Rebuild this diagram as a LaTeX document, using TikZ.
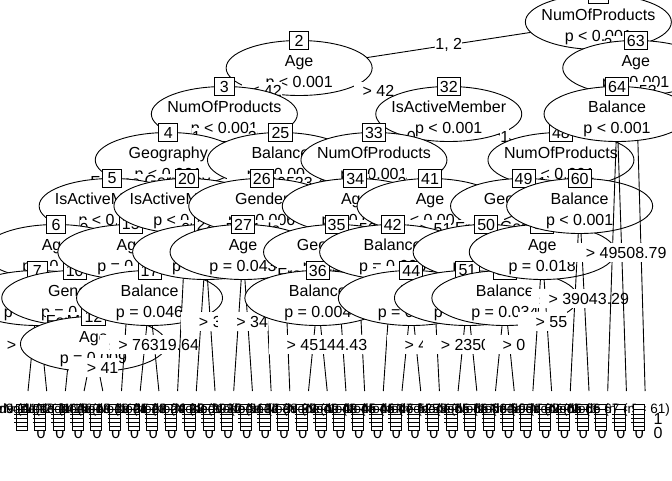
\documentclass[tikz,border=0pt]{standalone}
\usepackage{fontspec}
\setmainfont{Liberation Sans}
\usetikzlibrary{shapes.geometric}
\newcommand{\tkf}{\fontsize{16}{19}\selectfont}
\newcommand{\tks}{\fontsize{13.5}{16}\selectfont}
\newcommand{\lelab}[1]{\phantom{0}≤ #1}
\newcommand{\gtlab}[1]{\phantom{0}> #1}
\newcommand{\inode}[3]{%
  \node[ell] (e#1) at (n#1) {};
  \node[ntext] (v#1) at ([yshift=2pt]n#1) {#2};
  \node[ntext] (p#1) at ([yshift=-19pt]n#1) {#3};
  \node[idbox] (b#1) at ([yshift=27.5pt]n#1) {#1};
}
\newcommand{\ed}[2]{\draw (#1) -- (#2);}
\newcommand{\lab}[4]{\path (#1) -- (#2) node[elab,pos=#3] (l#1#2) {#4};}
\newcommand{\term}[3]{%
  \node[tbg] (g#1) at (#2,410.5) {};
  \node[ttext] (m#1) at (#2-26,413) {Node #1 (n = #3)};
  \node[tbar] (r#1) at (#2-6.5,417) {};
  \draw (#2-12,409.5) -- (#2-1,409.5);
  \draw (#2-14,414.5) -- (#2-1,414.5);
  \draw (#2-14,418.5) -- (#2-1,418.5);
  \draw (#2-14,422.5) -- (#2-1,422.5);
  \draw (#2-12,426.5) -- (#2-1,426.5);
  \node[tlev] (o#1) at (#2+13,419) {1};
  \node[tlev] (z#1) at (#2+13,432.5) {0};
}
\begin{document}
\begin{tikzpicture}[x=1pt,y=-1pt,line width=0.9pt,
  ell/.style={ellipse,draw,fill=white,minimum width=146pt,minimum height=55pt,inner sep=0pt},
  idbox/.style={draw,fill=white,minimum width=19.2pt,minimum height=18.5pt,inner xsep=2.65pt,inner ysep=0pt,font=\tkf},
  ntext/.style={anchor=base,inner sep=0pt,font=\tkf},
  elab/.style={fill=white,inner xsep=0pt,inner ysep=0pt,minimum height=19pt,font=\tkf},
  tbg/.style={fill=white,draw=none,minimum width=18.7pt,minimum height=37pt,inner sep=0pt},
  ttext/.style={anchor=base,inner sep=0pt,font=\tks},
  tbar/.style={draw,fill=white,minimum width=11pt,minimum height=26pt,inner sep=0pt},
  tlev/.style={inner sep=0pt,font=\tkf}]
\useasboundingbox (0,0) rectangle (672,480);
\coordinate (n1) at (598.35,22);
\coordinate (n2) at (299.15,68);
\coordinate (n63) at (635.75,68);
\coordinate (n3) at (224.35,114);
\coordinate (n32) at (448.75,114);
\coordinate (n64) at (617.05,114);
\coordinate (n4) at (168.25,160);
\coordinate (n25) at (280.45,160);
\coordinate (n33) at (373.95,160);
\coordinate (n48) at (560.95,160);
\coordinate (n5) at (112.15,206);
\coordinate (n20) at (186.95,206);
\coordinate (n26) at (261.75,206);
\coordinate (n34) at (355.25,206);
\coordinate (n41) at (430.05,206);
\coordinate (n49) at (523.55,206);
\coordinate (n60) at (579.65,206);
\coordinate (n6) at (56.05,252);
\coordinate (n15) at (130.85,252);
\coordinate (n22) at (205.65,252);
\coordinate (n27) at (243.05,252);
\coordinate (n35) at (336.55,252);
\coordinate (n42) at (392.65,252);
\coordinate (n50) at (486.15,252);
\coordinate (n57) at (542.25,252);
\coordinate (n7) at (37.35,298);
\coordinate (n10) at (74.75,298);
\coordinate (n17) at (149.55,298);
\coordinate (n36) at (317.85,298);
\coordinate (n44) at (411.35,298);
\coordinate (n51) at (467.45,298);
\coordinate (n54) at (504.85,298);
\coordinate (n12) at (93.45,344);
\foreach \id/\k in {8/0,9/1,11/2,13/3,14/4,16/5,18/6,19/7,21/8,23/9,24/10,28/11,29/12,30/13,31/14,37/15,38/16,39/17,40/18,43/19,45/20,46/21,47/22,52/23,53/24,55/25,56/26,58/27,59/28,61/29,62/30,65/31,66/32,67/33}
  {\coordinate (t\id) at (28+18.7*\k,391);}
% node 1
\ed{n1}{n2}\ed{n1}{n63}
\inode{1}{NumOfProducts}{p < 0.001}
\lab{n1}{n2}{0.5}{1, 2}
\lab{n1}{n63}{0.5}{3, 4}
% node 2
\ed{n2}{n3}\ed{n2}{n32}
\inode{2}{Age}{p < 0.001}
\lab{n2}{n3}{0.5}{\lelab{42}}
\lab{n2}{n32}{0.5}{\gtlab{42}}
% node 3
\ed{n3}{n4}\ed{n3}{n25}
\inode{3}{NumOfProducts}{p < 0.001}
\lab{n3}{n4}{0.5}{1}
\lab{n3}{n25}{0.5}{2}
% node 4
\ed{n4}{n5}\ed{n4}{n20}
\inode{4}{Geography}{p < 0.001}
\lab{n4}{n5}{0.5}{France, Spain}
\lab{n4}{n20}{0.5}{Germany}
% node 5
\ed{n5}{n6}\ed{n5}{n15}
\inode{5}{IsActiveMember}{p < 0.001}
\lab{n5}{n6}{0.5}{0}
\lab{n5}{n15}{0.5}{1}
% node 6
\ed{n6}{n7}\ed{n6}{n10}
\inode{6}{Age}{p < 0.001}
\lab{n6}{n7}{0.5}{\lelab{35}}
\lab{n6}{n10}{0.5}{\gtlab{35}}
% node 7
\ed{n7}{t8}\ed{n7}{t9}
\inode{7}{Balance}{p = 0.012}
\lab{n7}{t8}{0.5}{\lelab{112738.6}}
\lab{n7}{t9}{0.5}{\gtlab{112738.6}}
% node 10
\ed{n10}{t11}\ed{n10}{n12}
\inode{10}{Gender}{p = 0.003}
\lab{n10}{t11}{0.2473}{Female}
\lab{n10}{n12}{0.5}{Male}
% node 12
\ed{n12}{t13}\ed{n12}{t14}
\inode{12}{Age}{p = 0.009}
\lab{n12}{t13}{0.5}{\lelab{41}}
\lab{n12}{t14}{0.5}{\gtlab{41}}
% node 15
\ed{n15}{t16}\ed{n15}{n17}
\inode{15}{Age}{p = 0.002}
\lab{n15}{t16}{0.1655}{\lelab{37}}
\lab{n15}{n17}{0.5}{\gtlab{37}}
% node 17
\ed{n17}{t18}\ed{n17}{t19}
\inode{17}{Balance}{p = 0.046}
\lab{n17}{t18}{0.5}{\lelab{76319.64}}
\lab{n17}{t19}{0.5}{\gtlab{76319.64}}
% node 20
\ed{n20}{t21}\ed{n20}{n22}
\inode{20}{IsActiveMember}{p < 0.001}
\lab{n20}{t21}{0.1243}{0}
\lab{n20}{n22}{0.5}{1}
% node 22
\ed{n22}{t23}\ed{n22}{t24}
\inode{22}{Age}{p = 0.021}
\lab{n22}{t23}{0.5}{\lelab{39}}
\lab{n22}{t24}{0.5}{\gtlab{39}}
% node 25
\ed{n25}{n26}\ed{n25}{t31}
\inode{25}{Balance}{p = 0.002}
\lab{n25}{n26}{0.5}{\lelab{120523.4}}
\lab{n25}{t31}{0.0996}{\gtlab{120523.4}}
% node 26
\ed{n26}{n27}\ed{n26}{t30}
\inode{26}{Gender}{p = 0.006}
\lab{n26}{n27}{0.5}{Female}
\lab{n26}{t30}{0.1243}{Male}
% node 27
\ed{n27}{t28}\ed{n27}{t29}
\inode{27}{Age}{p = 0.043}
\lab{n27}{t28}{0.5}{\lelab{34}}
\lab{n27}{t29}{0.5}{\gtlab{34}}
% node 32
\ed{n32}{n33}\ed{n32}{n48}
\inode{32}{IsActiveMember}{p < 0.001}
\lab{n32}{n33}{0.5}{0}
\lab{n32}{n48}{0.5}{1}
% node 33
\ed{n33}{n34}\ed{n33}{n41}
\inode{33}{NumOfProducts}{p < 0.001}
\lab{n33}{n34}{0.5}{1}
\lab{n33}{n41}{0.5}{2}
% node 34
\ed{n34}{n35}\ed{n34}{t40}
\inode{34}{Age}{p < 0.001}
\lab{n34}{n35}{0.5}{\lelab{56}}
\lab{n34}{t40}{0.1243}{\gtlab{56}}
% node 35
\ed{n35}{n36}\ed{n35}{t39}
\inode{35}{Geography}{p = 0.003}
\lab{n35}{n36}{0.5}{France, Spain}
\lab{n35}{t39}{0.1655}{Germany}
% node 36
\ed{n36}{t37}\ed{n36}{t38}
\inode{36}{Balance}{p = 0.004}
\lab{n36}{t37}{0.5}{\lelab{45144.43}}
\lab{n36}{t38}{0.5}{\gtlab{45144.43}}
% node 41
\ed{n41}{n42}\ed{n41}{t47}
\inode{41}{Age}{p < 0.001}
\lab{n41}{n42}{0.5}{\lelab{51}}
\lab{n41}{t47}{0.1243}{\gtlab{51}}
% node 42
\ed{n42}{t43}\ed{n42}{n44}
\inode{42}{Balance}{p = 0.005}
\lab{n42}{t43}{0.1655}{\lelab{0}}
\lab{n42}{n44}{0.5}{\gtlab{0}}
% node 44
\ed{n44}{t45}\ed{n44}{t46}
\inode{44}{Age}{p = 0.031}
\lab{n44}{t45}{0.5}{\lelab{46}}
\lab{n44}{t46}{0.5}{\gtlab{46}}
% node 48
\ed{n48}{n49}\ed{n48}{n60}
\inode{48}{NumOfProducts}{p < 0.001}
\lab{n48}{n49}{0.5}{1}
\lab{n48}{n60}{0.5}{2}
% node 49
\ed{n49}{n50}\ed{n49}{n57}
\inode{49}{Geography}{p < 0.001}
\lab{n49}{n50}{0.5}{France, Spain}
\lab{n49}{n57}{0.5}{Germany}
% node 50
\ed{n50}{n51}\ed{n50}{n54}
\inode{50}{Age}{p = 0.007}
\lab{n50}{n51}{0.5}{\lelab{58}}
\lab{n50}{n54}{0.5}{\gtlab{58}}
% node 51
\ed{n51}{t52}\ed{n51}{t53}
\inode{51}{Balance}{p = 0.027}
\lab{n51}{t52}{0.5}{\lelab{23506.4}}
\lab{n51}{t53}{0.5}{\gtlab{23506.4}}
% node 54
\ed{n54}{t55}\ed{n54}{t56}
\inode{54}{Balance}{p = 0.034}
\lab{n54}{t55}{0.5}{\lelab{0}}
\lab{n54}{t56}{0.5}{\gtlab{0}}
% node 57
\ed{n57}{t58}\ed{n57}{t59}
\inode{57}{Age}{p = 0.018}
\lab{n57}{t58}{0.5}{\lelab{55}}
\lab{n57}{t59}{0.5}{\gtlab{55}}
% node 60
\ed{n60}{t61}\ed{n60}{t62}
\inode{60}{Balance}{p < 0.001}
\lab{n60}{t61}{0.5}{\lelab{39043.29}}
\lab{n60}{t62}{0.5}{\gtlab{39043.29}}
% node 63
\ed{n63}{n64}\ed{n63}{t67}
\inode{63}{Age}{p < 0.001}
\lab{n63}{n64}{0.5}{\lelab{53}}
\lab{n63}{t67}{0.0712}{\gtlab{53}}
% node 64
\ed{n64}{t65}\ed{n64}{t66}
\inode{64}{Balance}{p < 0.001}
\lab{n64}{t65}{0.5}{\lelab{49508.79}}
\lab{n64}{t66}{0.5}{\gtlab{49508.79}}
% terminal nodes
\foreach \id/\k/\nn in {8/0/1163,9/1/295,11/2/1012,13/3/341,14/4/114,16/5/1374,18/6/533,19/7/166,21/8/292,23/9/214,24/10/130,28/11/201,29/12/67,30/13/152,31/14/48,37/15/119,38/16/146,39/17/137,40/18/53,43/19/63,45/20/39,46/21/27,47/22/36,52/23/88,53/24/134,55/25/41,56/26/72,58/27/71,59/28/24,61/29/188,62/30/346,65/31/72,66/32/57,67/33/61}
  {\term{\id}{28+18.7*\k}{\nn}}
\end{tikzpicture}
\end{document}
